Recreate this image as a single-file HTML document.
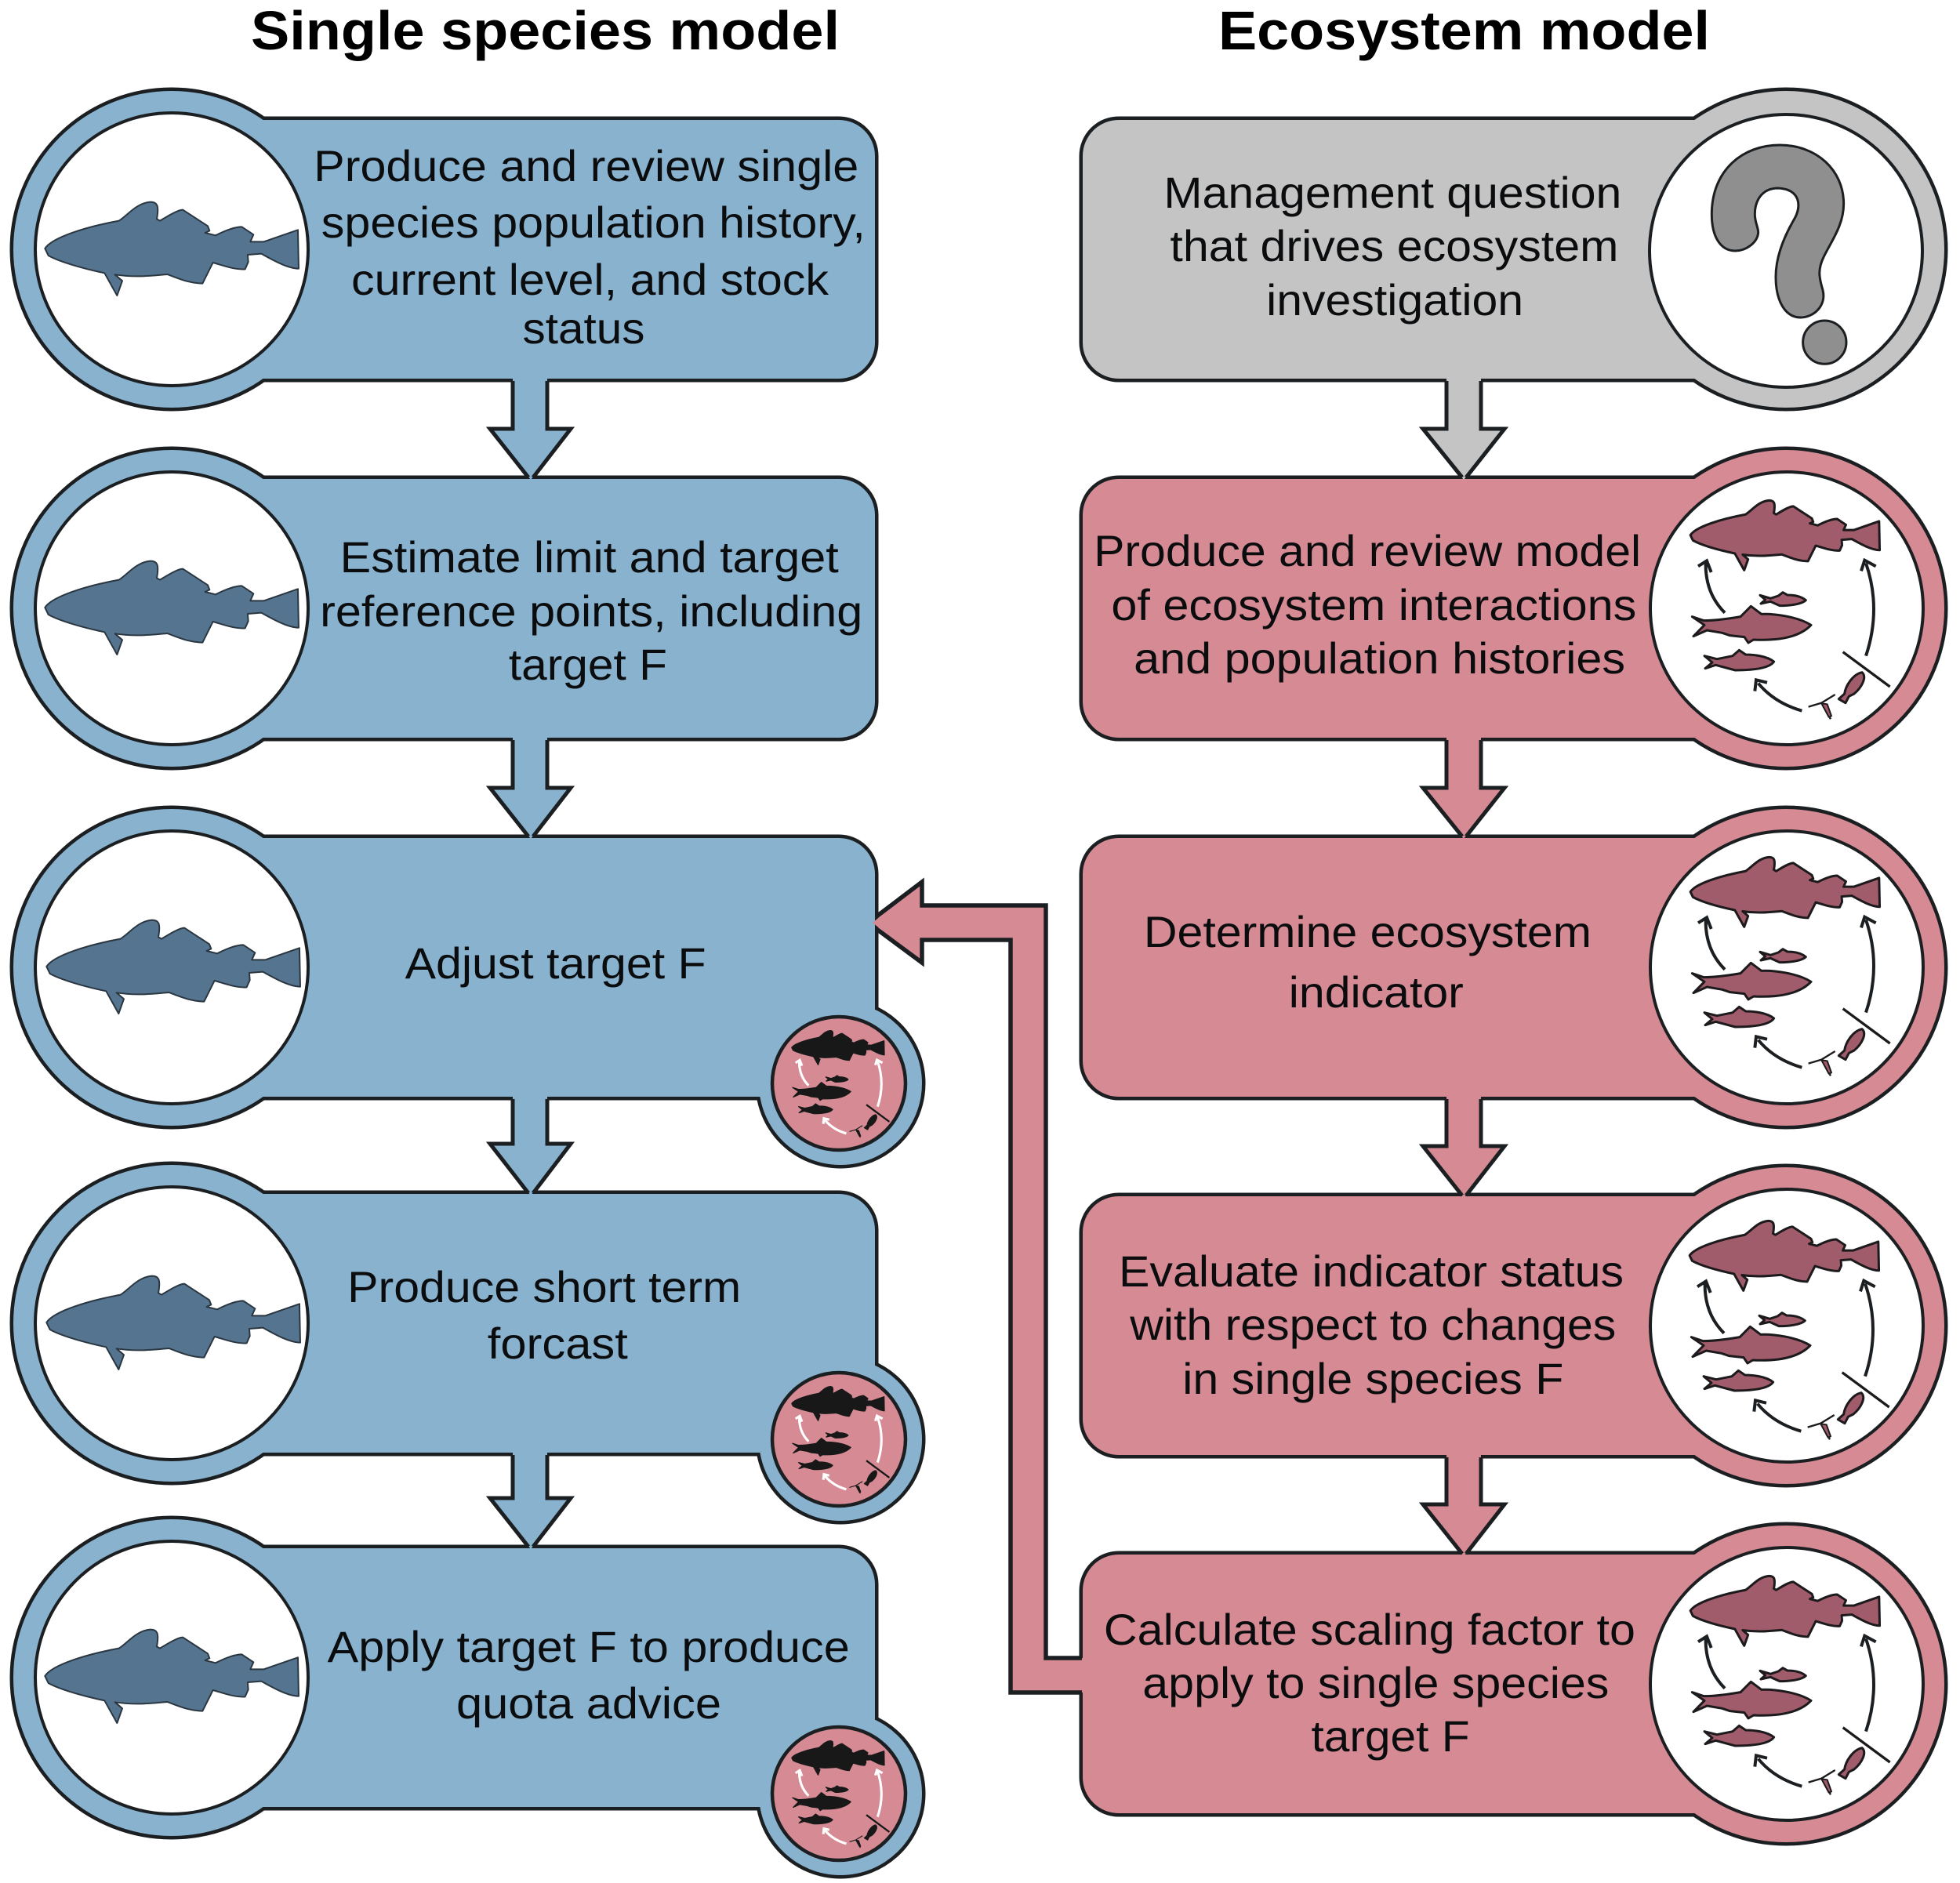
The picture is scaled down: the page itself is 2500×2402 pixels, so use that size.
<!DOCTYPE html>
<html><head><meta charset="utf-8">
<style>
html,body{margin:0;padding:0;background:#fff}
svg{display:block}
text{font-family:"Liberation Sans",sans-serif;font-size:56px;fill:#0b0c0e}
.t{font-size:70px;font-weight:bold;fill:#000}
.w{fill:var(--f);stroke:var(--s);stroke-width:var(--sw);stroke-linejoin:round}
.c{fill:var(--f);stroke:var(--s);stroke-width:var(--sc);stroke-linejoin:round}
.a{fill:none;stroke:var(--a);stroke-width:var(--aw)}
.l{fill:none;stroke:var(--s);stroke-width:var(--al)}
</style></head>
<body>
<svg xmlns="http://www.w3.org/2000/svg" xmlns:xlink="http://www.w3.org/1999/xlink" width="2500" height="2402" viewBox="0 0 2500 2402">
<defs>
<path id="cod" d="M172,318 C200,275 330,235 455,212 C490,190 520,145 575,140 C600,140 610,150 600,205 L612,212 C640,195 680,170 700,170 L795,232 L802,250 L785,258 L825,268 C860,250 900,235 925,235 L970,265 L958,292 L1010,292 L1140,247 L1143,395 C1100,395 1040,360 1000,338 L948,342 L950,370 L938,397 C900,400 860,385 815,372 L775,452 C720,450 690,435 640,417 C580,422 520,430 440,418 L468,442 L448,498 L400,412 C320,395 230,370 185,345 Z"/>
<g id="web" transform="translate(-687,-648)">
  <use xlink:href="#cod" class="c" transform="translate(190,130.6) scale(.746)"/>
  <path class="w" d="M325,680 L372,712 L330,755 L382,732 L440,742 L470,752 L525,758 L540,780 L560,768 C640,772 730,765 780,712 C730,680 640,668 590,670 L550,640 L510,680 C440,692 400,695 370,695 Z"/>
  <path class="w" d="M372,830 L402,855 L375,878 L415,865 L490,885 C550,885 620,880 638,852 C610,830 560,825 530,825 L505,808 L480,830 L420,842 Z"/>
  <path class="w" d="M585,598 L605,615 L588,630 L625,622 L660,638 C700,638 745,632 760,617 C740,600 710,597 690,597 L672,587 L655,600 L625,610 Z"/>
  <path class="a" d="M450,665 Q375,590 377,475 M348,487 L381,466 L398,510"/>
  <path class="a" d="M990,830 Q1050,650 990,475 M972,505 L985,464 L1028,487"/>
  <path class="a" d="M745,1040 Q640,1010 578,935 M565,965 L570,922 L612,932"/>
  <path class="l" d="M902,815 L1082,948"/>
  <path class="w" d="M975,893 C995,910 975,950 945,975 L925,985 L912,1010 L886,995 L908,975 C912,945 940,900 975,893 Z"/>
  <path class="l" style="stroke-width:7" d="M770,1025 L820,1010 L872,978 M820,1010 L855,1072"/>
  <path class="w" style="stroke-width:6" d="M820,1012 L842,1015 L858,1060 L848,1064 Z"/>
</g>
<g id="lo"><rect x="219" y="-165" width="897" height="330" rx="46" ry="46"/><circle cx="219" cy="0" r="202"/></g>
<g id="ro"><rect x="1381" y="-165" width="898" height="330" rx="46" ry="46"/><circle cx="2278" cy="0" r="202"/></g>
<g id="sm"><circle cx="1072" cy="148" r="104"/></g>
</defs>

<text class="t" x="320" y="63" textLength="751" lengthAdjust="spacingAndGlyphs">Single species model</text>
<text class="t" x="1554" y="63" textLength="627" lengthAdjust="spacingAndGlyphs">Ecosystem model</text>

<!-- outlines -->
<g fill="none" stroke="#1c1f22" stroke-width="9">
  <use xlink:href="#lo" transform="translate(0,318)"/>
  <use xlink:href="#lo" transform="translate(0,776)"/>
  <use xlink:href="#lo" transform="translate(0,1234)"/>
  <use xlink:href="#lo" transform="translate(0,1688)"/>
  <use xlink:href="#lo" transform="translate(0,2140)"/>
  <use xlink:href="#sm" transform="translate(0,1234)"/>
  <use xlink:href="#sm" transform="translate(0,1688)"/>
  <use xlink:href="#sm" transform="translate(0,2140)"/>
  <use xlink:href="#ro" transform="translate(0,318)"/>
  <use xlink:href="#ro" transform="translate(0,776)"/>
  <use xlink:href="#ro" transform="translate(0,1234)"/>
  <use xlink:href="#ro" transform="translate(0,1691)"/>
  <use xlink:href="#ro" transform="translate(0,2148)"/>
</g>
<!-- fills -->
<g fill="#89b2ce">
  <use xlink:href="#lo" transform="translate(0,318)"/>
  <use xlink:href="#lo" transform="translate(0,776)"/>
  <use xlink:href="#lo" transform="translate(0,1234)"/>
  <use xlink:href="#lo" transform="translate(0,1688)"/>
  <use xlink:href="#lo" transform="translate(0,2140)"/>
  <use xlink:href="#sm" transform="translate(0,1234)"/>
  <use xlink:href="#sm" transform="translate(0,1688)"/>
  <use xlink:href="#sm" transform="translate(0,2140)"/>
</g>
<use xlink:href="#ro" transform="translate(0,318)" fill="#c4c4c4"/>
<g fill="#d68b94">
  <use xlink:href="#ro" transform="translate(0,776)"/>
  <use xlink:href="#ro" transform="translate(0,1234)"/>
  <use xlink:href="#ro" transform="translate(0,1691)"/>
  <use xlink:href="#ro" transform="translate(0,2148)"/>
</g>

<!-- inner white circles -->
<g fill="#fff" stroke="#1c1f22" stroke-width="4">
  <circle cx="219" cy="318" r="174"/><circle cx="219" cy="776" r="174"/><circle cx="219" cy="1234" r="174"/><circle cx="219" cy="1688" r="174"/><circle cx="219" cy="2140" r="174"/>
  <circle cx="2278" cy="320" r="174"/><circle cx="2279" cy="776" r="174"/><circle cx="2279" cy="1234" r="174"/><circle cx="2279" cy="1691" r="174"/><circle cx="2279" cy="2148" r="174"/>
</g>
<!-- small pink circles -->
<g fill="#d68b94" stroke="#1c1f22" stroke-width="4.5">
  <circle cx="1070" cy="1382" r="85"/><circle cx="1070" cy="1836" r="85"/><circle cx="1070" cy="2288" r="85"/>
</g>

<!-- left fish -->
<g fill="#557490" stroke="#2a3640" stroke-width="6" stroke-linejoin="round">
  <use xlink:href="#cod" transform="translate(0,211) scale(.3333)"/>
  <use xlink:href="#cod" transform="translate(0,669) scale(.3333)"/>
  <use xlink:href="#cod" transform="translate(2,1127) scale(.3333)"/>
  <use xlink:href="#cod" transform="translate(2,1581) scale(.3333)"/>
  <use xlink:href="#cod" transform="translate(0,2032) scale(.3333)"/>
</g>

<!-- question mark -->
<g transform="translate(2050,100) scale(.3333)" fill="#8f8f8f" stroke="#1c1f22" stroke-width="9">
  <path d="M490,660 C430,660 400,600 400,520 C400,350 520,255 660,255 C800,255 905,350 905,480 C905,560 860,620 830,680 C805,730 810,760 825,810 C840,870 790,915 740,915 C680,915 645,850 645,760 C645,680 680,600 715,540 C745,490 740,425 655,420 C590,420 565,470 565,520 C565,550 578,570 578,590 C575,630 530,660 490,660 Z"/>
  <circle cx="832" cy="1010" r="83"/>
</g>

<!-- ecosystem web icons -->
<g style="--f:#a05c6a;--s:#1c1a1c;--a:#1c1f22;--aw:12;--sw:9;--sc:12;--al:10">
  <use xlink:href="#web" transform="translate(2279,776) scale(.3333)"/>
  <use xlink:href="#web" transform="translate(2279,1231) scale(.3333)"/>
  <use xlink:href="#web" transform="translate(2278,1695) scale(.3333)"/>
  <use xlink:href="#web" transform="translate(2279,2148) scale(.3333)"/>
</g>
<g style="--f:#181818;--s:#181818;--a:#fff;--aw:19;--sw:8;--sc:11;--al:14">
  <use xlink:href="#web" transform="translate(1070,1382) scale(.163)"/>
  <use xlink:href="#web" transform="translate(1070,1836) scale(.163)"/>
  <use xlink:href="#web" transform="translate(1070,2288) scale(.163)"/>
</g>

<!-- down arrows -->
<g stroke="#1c1f22" stroke-width="5" stroke-linejoin="miter">
  <g fill="#89b2ce">
    <path stroke="none" d="M654,478 H698 V547 H728 L677,612 L625,547 H654 Z"/>
    <path fill="none" d="M654,486 V547 H625 L674,609 M698,486 V547 H728 L680,609"/>
    <path stroke="none" d="M654,936 H698 V1005 H728 L677,1070 L625,1005 H654 Z"/>
    <path fill="none" d="M654,944 V1005 H625 L674,1067 M698,944 V1005 H728 L680,1067"/>
    <path stroke="none" d="M654,1394 H698 V1459 H728 L677,1525 L625,1459 H654 Z"/>
    <path fill="none" d="M654,1402 V1459 H625 L674,1522 M698,1402 V1459 H728 L680,1522"/>
    <path stroke="none" d="M654,1848 H698 V1911 H728 L677,1976 L625,1911 H654 Z"/>
    <path fill="none" d="M654,1856 V1911 H625 L674,1973 M698,1856 V1911 H728 L680,1973"/>
  </g>
  <path fill="#c4c4c4" stroke="none" d="M1845,478 H1889 V547 H1919 L1867,612 L1815,547 H1845 Z"/>
  <path fill="none" d="M1845,486 V547 H1815 L1865,609 M1889,486 V547 H1919 L1870,609"/>
  <g fill="#d68b94">
    <path stroke="none" d="M1845,936 H1889 V1005 H1919 L1867,1070 L1815,1005 H1845 Z"/>
    <path fill="none" d="M1845,944 V1005 H1815 L1865,1067 M1889,944 V1005 H1919 L1870,1067"/>
    <path stroke="none" d="M1845,1394 H1889 V1462 H1919 L1867,1528 L1815,1462 H1845 Z"/>
    <path fill="none" d="M1845,1402 V1462 H1815 L1865,1525 M1889,1402 V1462 H1919 L1870,1525"/>
    <path stroke="none" d="M1845,1851 H1889 V1919 H1919 L1867,1985 L1815,1919 H1845 Z"/>
    <path fill="none" d="M1845,1859 V1919 H1815 L1865,1982 M1889,1859 V1919 H1919 L1870,1982"/>
  </g>
</g>

<!-- feedback arrow -->
<path fill="#d68b94" d="M1385,2159 H1289 V1199 H1176 V1228 L1113,1177 L1176,1125 V1155 H1333 V2115 H1385 Z"/>
<path fill="none" stroke="#1c1f22" stroke-width="5.5" d="M1380,2115 H1334 V1155 H1176 V1125 L1118,1169 M1118,1185 L1176,1228 V1199 H1289 V2159 H1380"/>

<!-- text -->
<g>
<text x="400.2" y="231" textLength="695" lengthAdjust="spacingAndGlyphs">Produce and review single</text>
<text x="409.8" y="303" textLength="694" lengthAdjust="spacingAndGlyphs">species population history,</text>
<text x="448" y="376" textLength="609" lengthAdjust="spacingAndGlyphs">current level, and stock</text>
<text x="666.5" y="438" textLength="156" lengthAdjust="spacingAndGlyphs">status</text>
<text x="433.7" y="730" textLength="636" lengthAdjust="spacingAndGlyphs">Estimate limit and target</text>
<text x="408.2" y="799" textLength="692" lengthAdjust="spacingAndGlyphs">reference points, including</text>
<text x="648.9" y="867" textLength="202" lengthAdjust="spacingAndGlyphs">target F</text>
<text x="516.6" y="1248" textLength="384" lengthAdjust="spacingAndGlyphs">Adjust target F</text>
<text x="443.2" y="1661" textLength="502" lengthAdjust="spacingAndGlyphs">Produce short term</text>
<text x="621.8" y="1733" textLength="179" lengthAdjust="spacingAndGlyphs">forcast</text>
<text x="417.7" y="2120" textLength="666" lengthAdjust="spacingAndGlyphs">Apply target F to produce</text>
<text x="582" y="2192" textLength="338" lengthAdjust="spacingAndGlyphs">quota advice</text>
<text x="1484.4" y="265" textLength="584" lengthAdjust="spacingAndGlyphs">Management question</text>
<text x="1492.4" y="333" textLength="572" lengthAdjust="spacingAndGlyphs">that drives ecosystem</text>
<text x="1615.1" y="402" textLength="328" lengthAdjust="spacingAndGlyphs">investigation</text>
<text x="1395.1" y="722" textLength="698" lengthAdjust="spacingAndGlyphs">Produce and review model</text>
<text x="1417.4" y="791" textLength="670" lengthAdjust="spacingAndGlyphs">of ecosystem interactions</text>
<text x="1446.1" y="859" textLength="627" lengthAdjust="spacingAndGlyphs">and population histories</text>
<text x="1458.9" y="1208" textLength="571" lengthAdjust="spacingAndGlyphs">Determine ecosystem</text>
<text x="1643.8" y="1285" textLength="223" lengthAdjust="spacingAndGlyphs">indicator</text>
<text x="1427" y="1641" textLength="644" lengthAdjust="spacingAndGlyphs">Evaluate indicator status</text>
<text x="1441.3" y="1709" textLength="620" lengthAdjust="spacingAndGlyphs">with respect to changes</text>
<text x="1508.3" y="1778" textLength="486" lengthAdjust="spacingAndGlyphs">in single species F</text>
<text x="1407.9" y="2098" textLength="678" lengthAdjust="spacingAndGlyphs">Calculate scaling factor to</text>
<text x="1457.3" y="2166" textLength="595" lengthAdjust="spacingAndGlyphs">apply to single species</text>
<text x="1672.5" y="2234" textLength="202" lengthAdjust="spacingAndGlyphs">target F</text>
</g>
</svg>
</body></html>
